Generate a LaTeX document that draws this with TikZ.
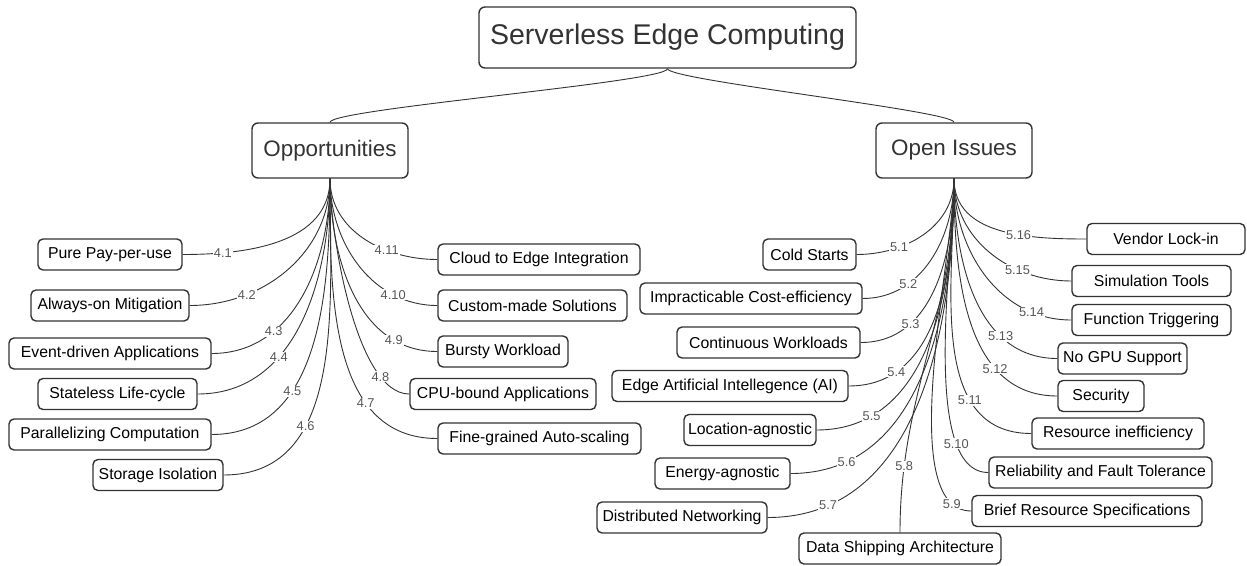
\documentclass[tikz,border=0pt]{standalone}
\usepackage{fontspec}
\setmainfont{Liberation Sans}

\definecolor{inkc}{HTML}{333333}
\definecolor{numc}{HTML}{555555}

\tikzset{every picture/.style={line width=0.9pt}}
\tikzset{
  topic/.style={draw=inkc, line width=1.4pt, rounded corners=6pt, text=inkc,
    font=\fontsize{28.5}{32}\selectfont, minimum width=377pt, minimum height=61pt},
  branch/.style={draw=inkc, line width=1.4pt, rounded corners=6pt, text=inkc,
    font=\fontsize{22.4}{26}\selectfont, minimum width=156pt, minimum height=55pt},
  leaf/.style={draw=inkc, line width=1.4pt, rounded corners=5pt,
    font=\fontsize{15.8}{18}\selectfont, minimum height=31pt, inner xsep=2pt},
  num/.style={fill=white, text=numc, inner sep=1pt, font=\fontsize{12.8}{14}\selectfont},
  link/.style={draw=inkc, line width=0.9pt},
}

\begin{document}
\begin{tikzpicture}[x=1pt,y=1pt,yscale=-1,xscale=1]
	\useasboundingbox (0,0) rectangle (1247,565);
	
	% root and branches
	\node [topic] (sec) at (667.5,37.5) {Serverless Edge Computing};
	\node [branch] (opp) at (330,150.5) {Opportunities};
	\node [branch] (iss) at (954,150.5) {Open Issues};
	
	% opportunities
	\node [leaf, minimum width=144pt] (pay) at (110,254.5) {Pure Pay-per-use};
	\node [leaf, minimum width=158pt] (alw) at (110,305.5) {Always-on Mitigation};
	\node [leaf, minimum width=202pt] (evt) at (110,353.5) {Event-driven Applications};
	\node [leaf, minimum width=159pt] (stl) at (117.5,394) {Stateless Life-cycle};
	\node [leaf, minimum width=202pt] (par) at (110,434.5) {Parallelizing Computation};
	\node [leaf, minimum width=130pt] (sto) at (158,475) {Storage Isolation};
	\node [leaf, minimum width=202pt] (c2e) at (539,259.5) {Cloud to Edge Integration};
	\node [leaf, minimum width=189pt] (cus) at (532.5,305.5) {Custom-made Solutions};
	\node [leaf, minimum width=130pt] (bur) at (503,351.5) {Bursty Workload};
	\node [leaf, minimum width=186pt] (cpu) at (503,394) {CPU-bound Applications};
	\node [leaf, minimum width=203pt] (fin) at (539.5,438.5) {Fine-grained Auto-scaling};
	
	% open issues
	\node [leaf, minimum width=93pt] (cold) at (809.5,254.5) {Cold Starts};
	\node [leaf, minimum width=222pt] (imp) at (751,298.5) {Impracticable Cost-efficiency};
	\node [leaf, minimum width=183pt] (cont) at (768.5,342.5) {Continuous Workloads};
	\node [leaf, minimum width=236pt] (eai) at (730,386) {Edge Artificial Intellegence (AI)};
	\node [leaf, minimum width=132pt] (loc) at (750,430) {Location-agnostic};
	\node [leaf, minimum width=135pt] (ene) at (722.5,473.5) {Energy-agnostic};
	\node [leaf, minimum width=170pt] (dis) at (682,517.5) {Distributed Networking};
	\node [leaf, minimum width=202pt] (dsa) at (900,548.5) {Data Shipping Architecture};
	\node [leaf, minimum width=230pt] (bri) at (1087,511) {Brief Resource Specifications};
	\node [leaf, minimum width=223pt] (rel) at (1100.5,472.5) {Reliability and Fault Tolerance};
	\node [leaf, minimum width=172pt] (res) at (1118,433.5) {Resource inefficiency};
	\node [leaf, minimum width=86pt] (secu) at (1101,396) {Security};
	\node [leaf, minimum width=129pt] (gpu) at (1122.5,358.5) {No GPU Support};
	\node [leaf, minimum width=159pt] (fun) at (1151.5,320) {Function Triggering};
	\node [leaf, minimum width=159pt] (sim) at (1151.5,281) {Simulation Tools};
	\node [leaf, minimum width=158pt] (ven) at (1166,239) {Vendor Lock-in};
	
	% root links
	\draw [link] (sec.south) to[out=90,in=-90,looseness=0.1] (opp.north);
	\draw [link] (sec.south) to[out=90,in=-90,looseness=0.1] (iss.north);
	
	% opportunities links
	\draw [link] (opp.south) to[out=90,in=0] node[num,pos=0.8] {4.1} (pay.east);
	\draw [link] (opp.south) to[out=90,in=0] node[num,pos=0.73] {4.2} (alw.east);
	\draw [link] (opp.south) to[out=90,in=0] node[num,pos=0.7] {4.3} (evt.east);
	\draw [link] (opp.south) to[out=90,in=0] node[num,pos=0.65] {4.4} (stl.east);
	\draw [link] (opp.south) to[out=90,in=0] node[num,pos=0.66] {4.5} (par.east);
	\draw [link] (opp.south) to[out=90,in=0] node[num,pos=0.67] {4.6} (sto.east);
	\draw [link] (opp.south) to[out=90,in=180] node[num,pos=0.7] {4.7} (fin.west);
	\draw [link] (opp.south) to[out=90,in=180,looseness=0.6] node[num,pos=0.8] {4.8} (cpu.west);
	\draw [link] (opp.south) to[out=90,in=180] node[num,pos=0.79] {4.9} (bur.west);
	\draw [link] (opp.south) to[out=90,in=180] node[num,pos=0.75] {4.10} (cus.west);
	\draw [link] (opp.south) to[out=90,in=180] node[num,pos=0.67] {4.11} (c2e.west);
	
	% open issues links
	\draw [link] (iss.south) to[out=90,in=0] node[num,pos=0.7] {5.1} (cold.east);
	\draw [link] (iss.south) to[out=90,in=0] node[num,pos=0.7] {5.2} (imp.east);
	\draw [link] (iss.south) to[out=90,in=0] node[num,pos=0.72] {5.3} (cont.east);
	\draw [link] (iss.south) to[out=90,in=0] node[num,pos=0.79] {5.4} (eai.east);
	\draw [link] (iss.south) to[out=90,in=0] node[num,pos=0.81] {5.5} (loc.east);
	\draw [link] (iss.south) to[out=90,in=0] node[num,pos=0.84] {5.6} (ene.east);
	\draw [link] (iss.south) to[out=90,in=0] node[num,pos=0.85] {5.7} (dis.east);
	\draw [link] (iss.south) to[out=90,in=-90] node[num,pos=0.83] {5.8} (dsa.north);
	\draw [link] (iss.south) to[out=90,in=180,looseness=0.6] node[num,pos=0.9] {5.9} (bri.west);
	\draw [link] (iss.south) to[out=90,in=180,looseness=0.6] node[num,pos=0.78] {5.10} (rel.west);
	\draw [link] (iss.south) to[out=90,in=180] node[num,pos=0.71] {5.11} (res.west);
	\draw [link] (iss.south) to[out=90,in=180] node[num,pos=0.71] {5.12} (secu.west);
	\draw [link] (iss.south) to[out=90,in=180] node[num,pos=0.71] {5.13} (gpu.west);
	\draw [link] (iss.south) to[out=90,in=180] node[num,pos=0.8] {5.14} (fun.west);
	\draw [link] (iss.south) to[out=90,in=180] node[num,pos=0.69] {5.15} (sim.west);
	\draw [link] (iss.south) to[out=90,in=180] node[num,pos=0.62] {5.16} (ven.west);
	
\end{tikzpicture}
\end{document}
